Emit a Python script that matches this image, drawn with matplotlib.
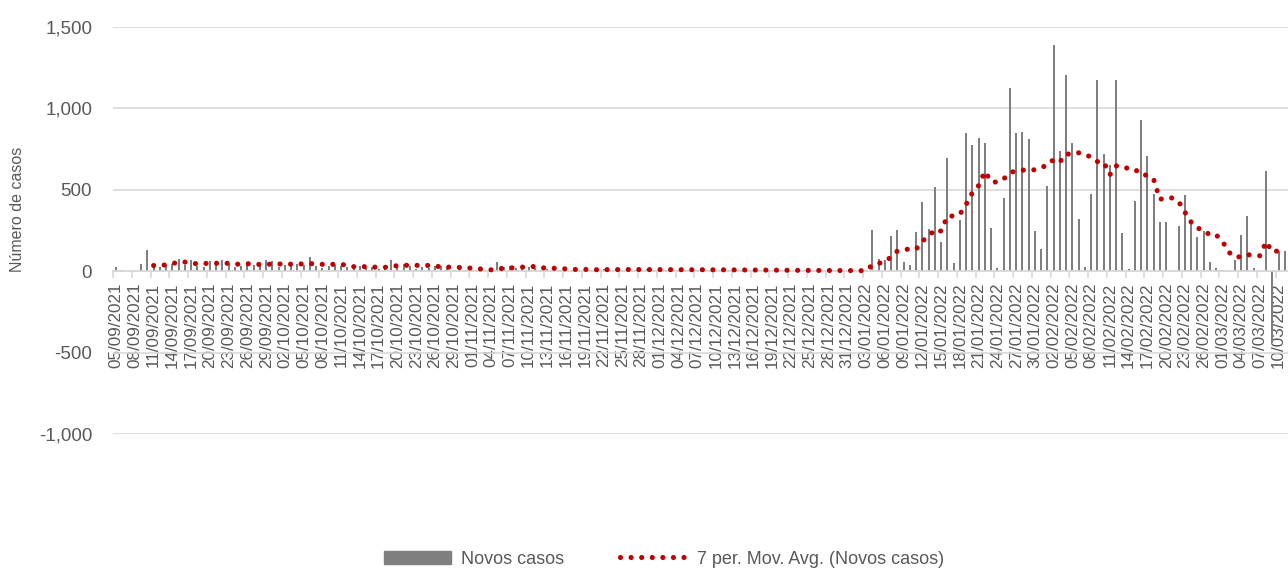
import numpy as np
import pandas as pd
import matplotlib
matplotlib.use("Agg")
import matplotlib.pyplot as plt
from matplotlib.patches import Patch
from matplotlib.lines import Line2D

plt.rcParams["font.family"] = ["Liberation Sans", "DejaVu Sans"]

# daily categories 05/09/2021 .. 11/03/2022
dates = pd.date_range("2021-09-05", "2022-03-11", freq="D")
date_labels = [d.strftime("%d/%m/%Y") for d in dates]

# Novos casos
sep_2021 = [27, 8, 0, 0, 43, 131, 35, 27, 40, 47, 74, 40, 68, 30, 27, 60, 43, 70,
            43, 27, 35, 45, 40, 30, 70, 65]
oct_2021 = [23, 40, 33, 45, 38, 90, 30, 20, 35, 40, 30, 25, 15, 30, 20, 25, 15, 35,
            70, 40, 45, 30, 15, 25, 20, 30, 35, 25, 10, 15, 10]
nov_2021 = [5, 5, 10, 5, 59, 25, 31, 20, 25, 25, 18, 5, 15, 18, 10, 7, 8, 7, 12, 10,
            9, 14, 6, 11, 10, 13, 8, 9, 12, 7]
dec_2021 = [10, 8, 11, 6, 9, 12, 7, 8, 10, 5, 9, 7, 8, 6, 9, 5, 7, 6, 4, 8, 5, 3, 6,
            4, 5, 3, 6, 2, 5, 3, 4]
jan_2022 = [3, 0, 5, 252, 72, 66, 219, 252, 57, 37, 240, 428, 262, 518, 180, 697, 49,
            313, 848, 775, 820, 785, 264, 20, 451, 1123, 848, 852, 815, 246, 135]
feb_2022 = [522, 1389, 738, 1203, 785, 318, 25, 473, 1172, 721, 650, 1172, 232, 12,
            430, 926, 707, 477, 305, 301, 2, 277, 467, 287, 209, 246, 55, 18]
mar_2022 = [10, 0, 70, 223, 338, 18, 4, 613, -440, 123, 123]

novos = np.array(sep_2021 + oct_2021 + nov_2021 + dec_2021 + jan_2022 + feb_2022 + mar_2022,
                 dtype=float)
# Excel "7 per. Mov. Avg." trendline
mov_avg = pd.Series(novos).rolling(7).mean().to_numpy()

y_ticks = [-1000, -500, 0, 500, 1000, 1500]

TXT = "#595959"
GRID = "#d9d9d9"
DOTS = (0, (0.01, 2.05))

fig = plt.figure(figsize=(12.88, 5.70), dpi=100)
ax = fig.add_axes([113 / 1288, 1 - 434 / 570, 1 - 113 / 1288, (434 - 27) / 570])

x = np.arange(len(novos))
ax.bar(x, novos, width=0.35, color="#7f7f7f", zorder=2)
ax.plot(x, mov_avg, color="#c00000", lw=3.7, ls=DOTS, dash_capstyle="round", zorder=3)

ax.set_xlim(-0.5, len(novos) - 0.5)
ax.set_ylim(-1000, 1500)
ax.set_yticks(y_ticks)
ax.yaxis.set_major_formatter(lambda v, p: f"{v:,.0f}")
ax.grid(axis="y", color=GRID, lw=1.2)
ax.set_axisbelow(True)

for s in ["top", "right", "left"]:
    ax.spines[s].set_visible(False)
ax.spines["bottom"].set_position(("data", 0))
ax.spines["bottom"].set_color(GRID)
ax.spines["bottom"].set_linewidth(1.2)

ax.set_xticks(x[::3])
ax.set_xticklabels(date_labels[::3], rotation=90, fontsize=12.3, color=TXT)
ax.set_xticks(np.arange(-0.5, len(novos), 3), minor=True)
ax.tick_params(axis="x", which="major", length=0, pad=8)
ax.tick_params(axis="x", which="minor", length=5, color=GRID, width=1.2)
ax.tick_params(axis="y", length=0, pad=15, labelsize=13.5, labelcolor=TXT)

fig.text(18 / 1288, 1 - 209 / 570, "Número de casos", rotation=90, ha="center",
         va="center", fontsize=11.5, color=TXT)

handles = [Patch(color="#7f7f7f"),
           Line2D([], [], color="#c00000", lw=3.7, ls=DOTS, dash_capstyle="round")]
fig.legend(handles, ["Novos casos", "7 per. Mov. Avg. (Novos casos)"],
           loc="center", bbox_to_anchor=(664 / 1288, 1 - 559 / 570), ncol=2,
           frameon=False, fontsize=13, labelcolor=TXT, handlelength=3.7,
           handletextpad=0.55, columnspacing=3.1)

fig.savefig("out.png", dpi=100)
